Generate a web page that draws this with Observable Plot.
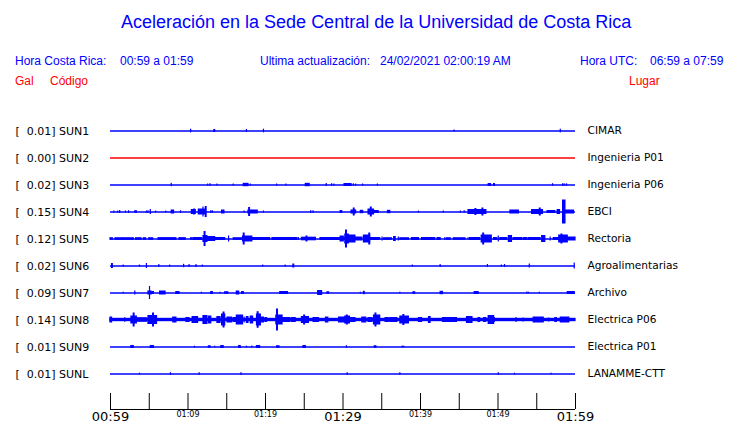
<!DOCTYPE html>
<html><head><meta charset="utf-8">
<script src="https://cdn.jsdelivr.net/npm/d3@7"></script>
<script src="https://cdn.jsdelivr.net/npm/@observablehq/plot@0.6"></script>
<style>
body{margin:0;background:#fff;}
#page{position:relative;width:740px;height:423px;overflow:hidden;font-family:"Liberation Sans",Arial,sans-serif;background:#fff;}
.h{position:absolute;white-space:pre;line-height:1;}
.blue{color:#0000ff}.red{color:#ff0000}
.t{font-size:18px;}
.s{font-size:12px;}
#main{position:absolute;left:0;top:110px}
#axis{position:absolute;left:0;top:387px}
</style></head>
<body><div id="page">
<div class="h blue t" style="left:121px;top:13px">Aceleración en la Sede Central de la Universidad de Costa Rica</div>
<div class="h blue s" style="left:15px;top:55px">Hora Costa Rica:</div>
<div class="h blue s" style="left:120px;top:55px">00:59 a 01:59</div>
<div class="h blue s" style="left:260px;top:55px">Ultima actualización:</div>
<div class="h blue s" style="left:380px;top:55px">24/02/2021 02:00:19 AM</div>
<div class="h blue s" style="left:580px;top:55px">Hora UTC:</div>
<div class="h blue s" style="left:650px;top:55px">06:59 a 07:59</div>
<div class="h red s" style="left:15px;top:75px">Gal</div>
<div class="h red s" style="left:50px;top:75px">Código</div>
<div class="h red s" style="left:629px;top:75px">Lugar</div>
<div id="main"></div>
<div id="axis"></div>
</div>
<script>
// Stations
const codes = ["SUN1","SUN2","SUN3","SUN4","SUN5","SUN6","SUN7","SUN8","SUN9","SUNL"];
const peaks = [0.01, 0.00, 0.02, 0.15, 0.12, 0.02, 0.09, 0.14, 0.01, 0.01];
const places = ["CIMAR","Ingenieria P01","Ingenieria P06","EBCI","Rectoria","Agroalimentarias","Archivo","Electrica P06","Electrica P01","LANAMME-CTT"];

// Axis ticks (minutes after 00:59)
const tickMinutes = [0,5,10,15,20,25,30,35,40,45,50,55,60];
const bigTickMinutes = [0,30,60];
const bigTickLabels = ["00:59","01:29","01:59"];
const smallTickMinutes = [10,20,40,50];
const smallTickLabels = ["01:09","01:19","01:39","01:49"];

// Trace events per station: [start minute, end minute, half amplitude]
const sun1 = [[10.4,10.4,1.8],[13.4,13.5,1.5],[17.6,17.6,1.5],[19.8,19.8,1.8],[44.4,44.4,1],[58.1,58.1,1.8]];
const sun2 = [];
const sun3 = [[7.9,7.9,1.7],[12.6,12.6,1],[12.9,12.9,1.3],[13.8,13.8,1],[15.9,15.9,1],[17.2,17.8,1.7],[18.1,18.1,1],[21.5,21.5,1],[22.7,22.7,1],[25.2,25.7,1.7],[27.9,27.9,1.5],[28.6,28.6,1.3],[28.9,28.9,1],[30.2,31.1,1.5],[31.4,31.4,1.2],[31.7,31.7,1],[32.6,32.6,1],[34.5,34.5,1],[48.8,49.1,1.5],[49.5,49.6,1.5],[57.1,57.1,1.3],[58.4,58.4,1.2],[58.6,58.6,1.2],[58.9,58.9,1.2]];
const sun4 = [[0.5,0.5,1],[1.0,1.0,1],[1.25,1.25,1.5],[2.0,2.0,1],[2.4,2.4,1.3],[3.2,3.4,1.3],[4.7,4.7,1],[4.9,4.9,1.3],[5.2,5.2,2.5],[5.9,5.9,1],[7.2,7.2,1],[7.9,8.2,2],[9.1,9.1,1.3],[10.5,11.0,2.5],[10.8,10.9,3],[11.4,12.3,3],[12.0,12.0,5],[12.3,12.4,5.5],[13.0,13.0,1.3],[13.2,13.2,1.3],[14.4,14.7,2],[17.3,17.3,1],[17.8,19.0,2],[17.9,18.0,4.5],[19.8,19.8,1],[25.9,25.9,1.3],[26.2,26.2,1.3],[29.7,29.9,1.5],[31.1,31.7,2],[31.4,31.5,4],[32.3,32.6,1.7],[33.3,34.0,3],[33.6,33.7,5],[34.0,34.6,1.5],[35.8,36.1,1.7],[39.8,39.8,1],[43.0,43.0,1],[45.2,45.2,1],[45.7,45.7,1.3],[46.2,48.5,2.5],[47.1,47.2,3.5],[48.0,48.1,4],[51.6,52.7,2],[54.4,55.8,2.5],[55.4,55.5,4],[56.4,57.4,1.5],[57.7,58.0,2.5],[58.4,58.7,12],[58.7,59.8,2]];
const sun5 = [[0,0.3,1.3],[0.65,1.1,1.3],[1.25,1.6,1.3],[1.7,3.0,1.3],[3.3,3.6,1.3],[3.7,4.0,1.3],[4.3,4.6,1.3],[5.0,5.5,1.3],[6.2,8.5,1.4],[8.9,9.7,1.4],[10.4,10.6,1.3],[10.75,11.8,1.5],[12.0,12.5,3.5],[12.15,12.25,7.5],[12.5,13.5,2.5],[13.5,14.8,1.5],[15.3,15.3,3],[15.9,17.0,1.3],[17.1,18.3,3],[17.2,17.3,6],[18.3,20.6,1.5],[20.9,24.1,1.5],[24.3,24.3,1.5],[24.7,26.5,1.8],[25.3,25.4,3],[27.1,30.3,1.5],[29.7,30.1,3],[30.3,30.75,5],[30.4,30.5,9],[30.75,31.6,4],[31.6,32.5,2],[32.7,33.5,4],[33.4,33.5,6],[33.5,34.8,1.5],[35.1,35.1,2],[35.3,36.3,1.3],[36.6,36.8,2.5],[37.2,37.2,2],[37.4,38.5,1.3],[38.9,39.8,1.5],[40.2,41.9,1.5],[42.2,42.6,1.5],[43.2,43.2,1.3],[43.4,43.9,1.3],[44.3,45.8,1.3],[46.2,46.2,1.3],[46.4,47.7,1.5],[47.9,49.2,4],[48.1,48.2,6],[49.5,49.9,1.5],[50.1,50.1,3],[50.3,51.2,1.5],[51.4,51.8,3.5],[52.0,53.1,1.5],[53.3,53.8,1.5],[54.0,55.5,1.5],[55.7,56.1,3.5],[56.8,56.8,2],[57.2,57.9,1.5],[57.9,59.0,4],[58.2,58.3,5],[59.0,60,2]];
const sun6 = [[0.2,0.3,2.5],[1.7,1.7,1],[3.8,3.8,1],[4.7,4.7,2.5],[6.3,6.3,1.5],[7.7,7.7,1],[9.5,9.5,1.7],[10.2,10.2,1.5],[11.1,11.1,1.5],[11.9,11.9,1],[19.7,19.7,1],[22.6,22.6,1],[23.6,23.7,2],[39.0,39.0,1],[42.6,42.6,1.5],[48.7,48.7,1.5],[50.5,50.5,1],[50.9,50.9,1.5],[54.1,54.1,2],[59.9,59.9,3]];
const sun7 = [[1.7,1.7,0.8],[3.2,3.2,2],[4.9,5.3,2],[5.1,5.1,6.5],[5.4,5.6,1.5],[6.4,7.1,2],[8.5,8.9,1.5],[11.8,11.8,0.8],[13.0,13.2,1.5],[14.2,14.2,0.8],[14.8,15.2,1.3],[16.3,16.6,2],[17.0,17.2,1.5],[21.9,22.9,1.5],[26.8,27.3,2.5],[28.0,28.2,1.3],[32.3,32.3,0.8],[32.7,32.8,1.7],[37.4,37.4,0.8],[39.1,39.3,1.3],[42.6,42.9,1.7],[47.0,47.5,1.5],[53.8,53.8,1],[54.0,54.0,0.8],[55.4,55.4,0.8],[59.0,59.9,1.5]];
const sun8 = [[0,60,1.7],[0,0.2,3],[1.9,1.9,2.3],[2.7,3.4,4],[3.0,3.1,7],[3.4,4.7,2.3],[4.9,6.0,4.5],[5.5,5.6,7],[8.1,8.5,3],[9.8,10.2,2.5],[10.6,11.3,3.5],[12.0,12.5,4.5],[12.7,13.0,4],[13.8,14.2,3.5],[14.4,14.8,6],[14.6,14.7,8],[15.1,15.7,3],[15.9,16.2,2.5],[16.3,17.1,5],[17.3,17.3,3],[17.6,17.8,3.5],[18.1,18.4,4],[18.9,19.4,6],[19.0,19.1,8.3],[19.4,19.8,3],[20.0,20.2,2.5],[21.4,22.2,5],[21.5,21.6,11],[22.2,23.2,2.5],[23.4,23.9,2.5],[24.7,25.6,3.5],[25.0,25.1,5],[26.2,26.9,2.5],[27.8,28.1,3],[29.5,30.3,3],[30.3,30.9,4],[30.5,30.6,5],[30.9,31.6,2.5],[32.5,33.0,3],[33.3,33.8,2.5],[34.0,34.8,5],[34.2,34.3,7],[35.5,35.9,2.5],[36.1,37.0,2.5],[37.4,38.5,4],[37.8,37.9,5.5],[39.8,40.2,2.5],[41.1,41.3,3.5],[42.9,44.7,2.5],[46.0,46.7,3.5],[47.5,47.7,2.5],[48.2,48.5,2.5],[48.8,49.5,4.5],[49.6,49.6,2.5],[52.4,52.4,2.5],[53.3,53.3,2],[54.6,55.9,3],[56.6,56.6,2],[57.4,57.6,2.5],[58.1,59.2,3]];
const sun9 = [[2.7,3.0,1.5],[5.2,5.6,1.5],[10.9,10.9,0.8],[12.7,12.9,1.3],[13.5,13.5,0.8],[14.3,14.6,1.5],[16.6,16.8,1.5],[17.6,17.6,0.8],[18.3,18.3,1],[18.9,19.3,1.5],[21.5,21.8,1.3],[24.9,25.2,1.5],[30.5,30.5,1.3],[34.1,34.3,1.3],[37.7,37.7,1],[37.9,37.9,0.8]];
const sunL = [[3.8,3.8,0.8],[7.8,7.8,1.3],[11.5,11.5,1.3],[16.9,16.9,1.3],[30.6,30.6,1.3],[37.4,37.4,1.3],[50.1,50.1,1.3],[52.2,52.2,0.8],[56.9,56.9,0.8]];
const traces = [sun1, sun2, sun3, sun4, sun5, sun6, sun7, sun8, sun9, sunL];

// Build tables
const stations = codes.map((code, i) => ({code, peak: peaks[i], place: places[i]}));
const events = codes.flatMap((code, i) => traces[i].map(([t1, t2, amp]) => ({code, t1, t2, amp})));
const bigTicks = bigTickMinutes.map((t, i) => ({t, label: bigTickLabels[i]}));
const smallTicks = smallTickMinutes.map((t, i) => ({t, label: smallTickLabels[i]}));

const NB = "\u00a0";
const main = Plot.plot({
  width: 740, height: 280,
  marginLeft: 110, marginRight: 165, marginTop: 7, marginBottom: 3,
  x: {domain: [0, 60], axis: null},
  y: {domain: [-13.5, 13.5], axis: null},
  fy: {domain: codes, padding: 0, axis: null},
  style: {fontFamily: "'DejaVu Sans', sans-serif", fontSize: "10.6px", background: "white", overflow: "visible"},
  marks: [
    Plot.ruleY(stations, {fy: "code", y: 0, stroke: d => d.peak === 0 ? "#ff0000" : "#0000ff", strokeWidth: 1.5}),
    Plot.rect(events, {fy: "code", x1: "t1", x2: "t2", y1: d => -d.amp, y2: "amp", fill: "#0000ff", insetLeft: -0.6, insetRight: -0.6}),
    Plot.text(stations, {fy: "code", frameAnchor: "left", dx: -95, textAnchor: "start", fill: "black", fontSize: 11,
      text: d => `[${NB}${NB}${d.peak.toFixed(2)}] ${d.code}`}),
    Plot.text(stations, {fy: "code", frameAnchor: "right", dx: 12, textAnchor: "start", fill: "black", text: "place"})
  ]
});
document.getElementById("main").appendChild(main);

const axis = Plot.plot({
  width: 740, height: 36,
  marginLeft: 110, marginRight: 165, marginTop: 6, marginBottom: 14,
  x: {domain: [0, 60], axis: null},
  y: {domain: [0, 1], axis: null},
  style: {fontFamily: "'DejaVu Sans', sans-serif", background: "white", overflow: "visible"},
  marks: [
    Plot.ruleY([0], {stroke: "black"}),
    Plot.ruleX(tickMinutes, {y1: 0, y2: 1, stroke: "black"}),
    Plot.text(bigTicks, {x: "t", y: 0, dy: 7, text: "label", fontSize: 13, fill: "black"}),
    Plot.text(smallTicks, {x: "t", y: 0, dy: 5, text: "label", fontSize: 8, fill: "black"})
  ]
});
document.getElementById("axis").appendChild(axis);
</script>
</body></html>
